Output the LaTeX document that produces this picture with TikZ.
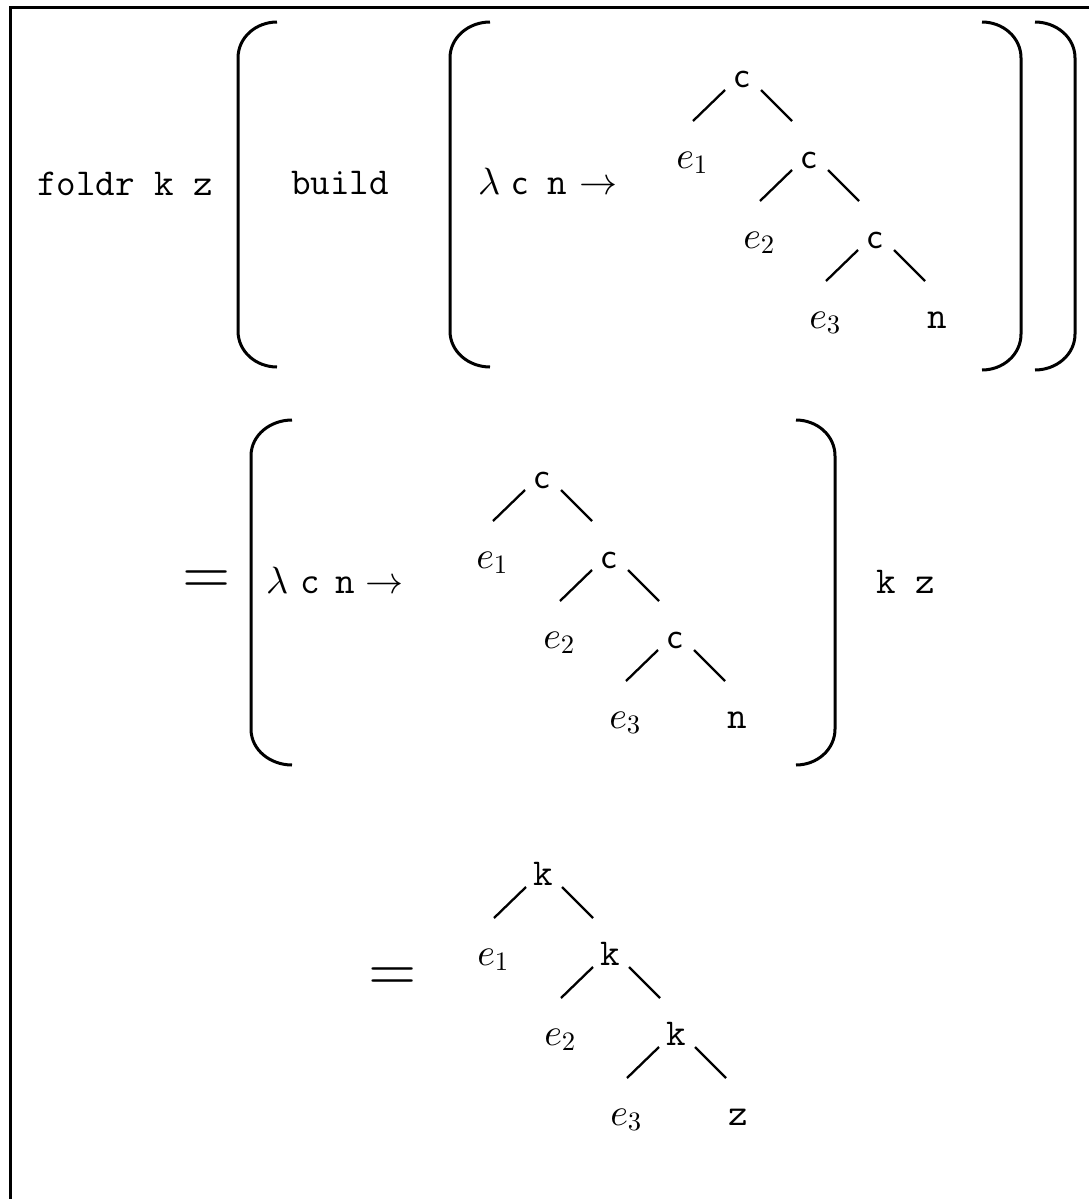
\documentclass[tikz,border=0pt]{standalone}
\DeclareFontShape{OML}{cmm}{m}{it}{<->cmmi10}{}
\DeclareFontShape{OMS}{cmsy}{m}{n}{<->cmsy10}{}
\DeclareFontShape{OT1}{cmr}{m}{n}{<->cmr10}{}
\begin{document}
\newcommand\mktree[6]{%
  % #1 prefix, #2 root x, #3 root baseline, #4 inner font, #5 inner text, #6 last leaf text
  \foreach \i/\dx in {0/0,1/67,2/133}{%
    \pgfmathtruncatemacro\j{\i+1}%
    \node[#4, anchor=base] (#1-i\i) at ({#2+\dx},{#3+80*\i}) {#5};
    \node[mth, anchor=base] (#1-e\i) at ({#2+\dx-50},{#3+80*\i+80}) {$e_{\j}$};
    \draw[treeline] ([shift={(-17,2)}]#1-i\i.base) -- ([shift={(-49,33)}]#1-i\i.base);
    \draw[treeline] ([shift={(19,2)}]#1-i\i.base) -- ([shift={(50,33)}]#1-i\i.base);
  }%
  \node[tt, anchor=base] (#1-leaf) at ({#2+133+62},{#3+240}) {#6};
}
\begin{tikzpicture}[x=1pt,y=-1pt,
  treeline/.style={line width=2.3pt},
  brk/.style={line width=3pt},
  frame/.style={line width=3pt},
  tt/.style={font=\fontsize{38}{44}\selectfont\ttfamily, inner sep=0pt},
  sfc/.style={font=\fontsize{37}{42}\selectfont\sffamily, inner sep=0pt},
  mth/.style={font=\fontsize{38}{44}\selectfont, inner sep=0pt},
  eqs/.style={font=\fontsize{62}{70}\selectfont, inner sep=0pt}]
\useasboundingbox (0,0) rectangle (1089,1199);
\draw[frame] (10,1199) -- (10,8) -- (1089,8);

% ---- row 1 ----
\node[tt, anchor=base west] (foldr) at (37,195) {foldr k z};
\draw[brk] (277,22) to[out=180,in=90] (238,58) -- (238,331) to[out=-90,in=180] (277,367);
\node[tt, anchor=base west] (build) at (291,194) {build};
\draw[brk] (490,22) to[out=180,in=90] (450,58) -- (450,331) to[out=-90,in=180] (490,367);
\node[mth, anchor=base west] (lam1) at (478,194) {$\lambda$\hspace{12pt}{\fontsize{37}{42}\selectfont\sffamily c}\hspace{20pt}{\ttfamily n}\hspace{12pt}$\rightarrow$};
\mktree{ta}{742}{88}{sfc}{c}{n}
\draw[brk] (982,22) to[out=0,in=90] (1021,58) -- (1021,334) to[out=-90,in=0] (982,370);
\draw[brk] (1035,22) to[out=0,in=90] (1075,58) -- (1075,334) to[out=-90,in=0] (1035,370);

% ---- row 2 ----
\node[eqs, anchor=base] (eq1) at (207,593) {$=$};
\draw[brk] (292,420) to[out=180,in=90] (251,456) -- (251,729) to[out=-90,in=180] (292,765);
\node[mth, anchor=base west] (lam2) at (266,593) {$\lambda$\hspace{12pt}{\ttfamily c}\hspace{16pt}{\ttfamily n}\hspace{10pt}$\rightarrow$};
\mktree{tb}{542}{488}{sfc}{c}{n}
\draw[brk] (796,420) to[out=0,in=90] (835,456) -- (835,729) to[out=-90,in=0] (796,765);
\node[tt, anchor=base west] (kz) at (876,593) {k z};

% ---- row 3 ----
\node[eqs, anchor=base] (eq2) at (393,990) {$=$};
\mktree{tc}{543}{885}{tt}{k}{z}
\end{tikzpicture}
\end{document}
